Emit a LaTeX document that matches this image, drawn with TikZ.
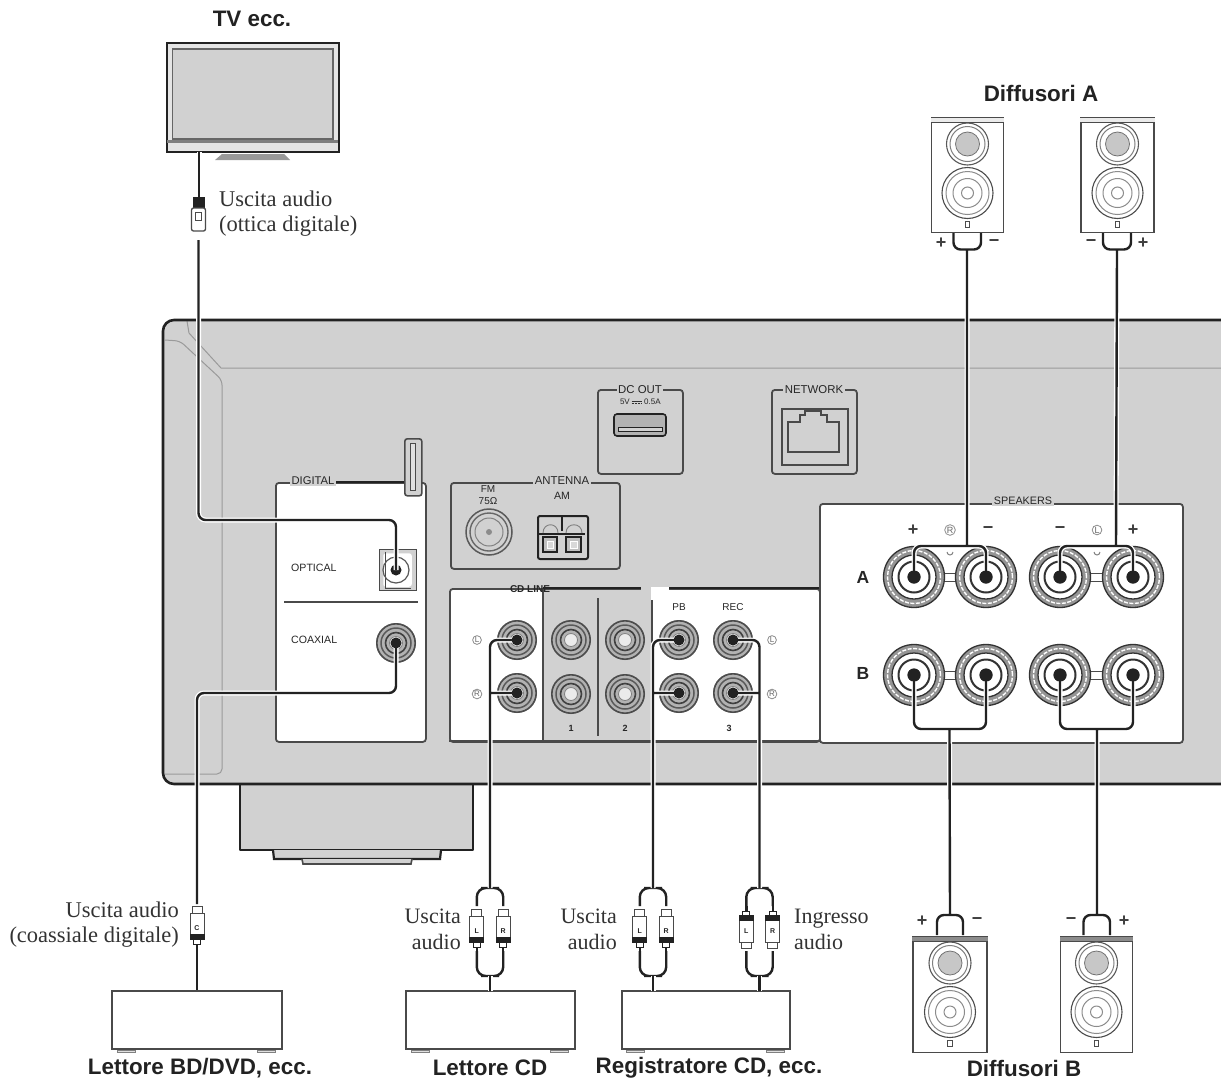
\documentclass[tikz,border=0pt]{standalone}
\usepackage{fontspec}
\setmainfont{Liberation Serif}
\setsansfont{Liberation Sans}
\definecolor{ampgray}{HTML}{D1D1D1}
\definecolor{ink}{HTML}{222222}
\definecolor{midline}{HTML}{4A4A4A}
\definecolor{lightline}{HTML}{9A9A9A}
\tikzset{
  cable/.style={draw=ink,line width=2.4pt,rounded corners=7pt,preaction={draw=white,line width=5pt}},
  panel/.style={draw=midline,line width=1.8pt,fill=white,rounded corners=3pt,anchor=north west,inner sep=0pt},
  graypanel/.style={panel,fill=ampgray},
  devbox/.style={draw=midline,line width=1.4pt,fill=white,inner sep=0pt},
  title/.style={font=\sffamily\bfseries\fontsize{22.4}{25}\selectfont,text=ink,inner sep=0pt},
  note/.style={font=\rmfamily\fontsize{22.5}{25}\selectfont,text=black!80,inner sep=0pt},
  noteb/.style={font=\rmfamily\fontsize{22}{26}\selectfont,text=black!80,inner sep=0pt},
  tag/.style={font=\sffamily\fontsize{10.6}{12}\selectfont,text=black!85,inner sep=0pt},
  tagfill/.style={tag,fill=ampgray,inner sep=1.5pt},
  plugletter/.style={tag,font=\sffamily\bfseries\fontsize{7}{8}\selectfont},
  bigtag/.style={font=\sffamily\bfseries\fontsize{17.5}{19}\selectfont,text=black!85,inner sep=0pt},
  sign/.style={font=\sffamily\bfseries\fontsize{18}{19}\selectfont,text=black!75,inner sep=0pt},
  ring/.style={draw=black!45,circle,line width=.8pt,inner sep=.6pt,font=\sffamily\fontsize{8}{9}\selectfont,text=black!60},
  thinline/.style={draw=lightline,line width=1pt},
}
% RCA socket
\newcommand\jack[3]{%
  \coordinate (#1) at (#2,#3);
  \fill[black!30] (#1) circle (20pt);
  \draw[black!70,line width=1.6pt] (#1) circle (19.2pt);
  \draw[black!65,line width=1.5pt] (#1) circle (15pt);
  \draw[black!75,line width=1.6pt] (#1) circle (10.5pt);
  \fill[black!8] (#1) circle (6.5pt);
  \draw[black!50,line width=.8pt] (#1) circle (6.5pt);
}
\newcommand\pin[1]{\fill[ink] (#1) circle (5.5pt);}
% speaker terminal
\newcommand\term[3]{%
  \coordinate (#1) at (#2,#3);
  \draw[black!80,fill=black!42,line width=1.3pt] (#1) circle (30.5pt);
  \draw[white,line width=1.4pt,dash pattern=on 4pt off 1.5pt] (#1) circle (26.5pt);
  \draw[black!80,fill=white,line width=1.3pt] (#1) circle (22pt);
  \draw[black!80,line width=2pt] (#1) circle (15.5pt);
  \fill[ink] (#1) circle (6.5pt);
}
% speaker cabinet: name, cx, top, width, height, band colour
\newcommand\spk[6]{%
  \node (#1) [devbox,anchor=north,minimum width=#4pt,minimum height=#5pt] at (#2,#3) {};
  \fill[#6] ([yshift=-.5pt]#1.north west) rectangle ([yshift=-5pt]#1.north east);
  \draw[midline,line width=1.2pt] ([yshift=-5.5pt]#1.north west) -- ([yshift=-5.5pt]#1.north east);
  \begin{scope}[shift={(#2,#3)}]
    \draw[black!65,line width=1.1pt] (0,27) circle (21pt);
    \draw[black!50,line width=1pt] (0,27) circle (17.5pt);
    \draw[black!55,line width=.8pt,fill=black!22] (0,27) circle (12pt);
    \draw[black!70,line width=1.1pt] (0,76) circle (25.5pt);
    \draw[black!45,line width=1pt] (0,76) circle (21.5pt);
    \draw[black!45,line width=1pt] (0,76) circle (14.5pt);
    \draw[black!45,line width=1pt] (0,76) circle (6pt);
    \draw[black!70,line width=.9pt] (-2.3,104) rectangle (2.3,110.5);
  \end{scope}
}
% RCA plug
\newcommand\plug[3]{%
  \begin{scope}[shift={(#1,#2)},yscale=#3]
    \fill[ink] (-1.2,17) rectangle (1.2,23);
    \draw[ink,fill=white,line width=1pt] (-3.5,13) rectangle (3.5,18);
    \draw[midline,fill=white,line width=1pt] (-5,-19.5) rectangle (5,-13);
    \draw[midline,fill=white,line width=1pt] (-7,-13) -- (7,-13) -- (7,9) -- (-7,9) -- cycle;
    \fill[ink] (-7.5,8) rectangle (7.5,14);
  \end{scope}
}
% stereo pair
\newcommand\stereo[4]{%
  \coordinate (#1top) at (#2,888);
  \coordinate (#1bot) at (#2,976);
  \coordinate (#1lu) at (#2-13.2,906);
  \coordinate (#1ru) at (#2+13.2,906);
  \coordinate (#1ld) at (#2-13.2,951);
  \coordinate (#1rd) at (#2+13.2,951);
  \coordinate (#1base) at (#2,#4);
  \draw[cable,rounded corners=9pt] (#1lu) |- (#1top) -| (#1ru);
  \draw[cable,rounded corners=9pt] (#1ld) |- (#1bot) -| (#1rd);
  \draw[cable] (#1bot) -- (#1base);
  \plug{#2-13.2}{929}{#3}
  \plug{#2+13.2}{929}{#3}
  \node (#1L) [plugletter] at (#2-13.2,931) {L};
  \node (#1R) [plugletter] at (#2+13.2,931) {R};
}
\begin{document}
\begin{tikzpicture}[x=1pt,y=-1pt]
\useasboundingbox (0,0) rectangle (1221,1079);
\fill[white] (0,0) rectangle (1221,1079);

% ---------- stand under the receiver
\draw[ink,line width=2.4pt,fill=ampgray,line join=round] (240,783) -- (240,850) -- (473,850) -- (473,783);
\draw[ink,line width=2.2pt,fill=ampgray] (273,850) -- (274,859) -- (440,859) -- (441,850);
\draw[midline,line width=1.6pt,fill=ampgray] (302,859) -- (303,864) -- (411,864) -- (412,859);

% ---------- receiver body
\fill[ampgray,rounded corners=11pt] (1240,320) -- (163,320) -- (163,784) -- (1240,784) -- cycle;
\draw[thinline] (187,321) -- (189,333) -- (221,368) -- (1221,368);
\draw[thinline,rounded corners=5pt] (165,340) -- (180,341) -- (222,380) -- (222,774) -- (165,774);
\draw[ink,line width=2.6pt,rounded corners=11pt] (1240,320) -- (163,320) -- (163,784) -- (1240,784);

% ---------- DC OUT
\node (dcbox) [graypanel,minimum width=85pt,minimum height=84pt] at (597,389) {};
\node (dclabel) [tagfill,font=\sffamily\fontsize{11.4}{12}\selectfont] at (640,390) {DC OUT};
\node (dcv) [tag,font=\sffamily\fontsize{8}{9}\selectfont,anchor=east] at (630,402) {5V};
\node (dca) [tag,font=\sffamily\fontsize{8}{9}\selectfont,anchor=west] at (644,402) {0.5A};
\draw[black!80,line width=.9pt] (dcv.east) ++(1.5,-1) -- ++(10,0);
\draw[black!80,line width=.7pt,dash pattern=on 2pt off 1pt] (dcv.east) ++(1.5,1) -- ++(10,0);
\node (usb) [draw=ink,fill=black!30,line width=1.6pt,rounded corners=3pt,minimum width=52pt,minimum height=22pt,inner sep=0pt] at (640,425) {};
\draw[ink,fill=ampgray,line width=1pt] (618,427) rectangle (662,431);

% ---------- NETWORK
\node (netbox) [graypanel,minimum width=85pt,minimum height=84pt] at (771,389) {};
\node (netlabel) [tagfill,font=\sffamily\fontsize{11.4}{12}\selectfont] at (814,390) {NETWORK};
\node (netport) [draw=midline,line width=1.6pt,anchor=north west,minimum width=66pt,minimum height=56pt,inner sep=0pt] at (781,408) {};
\draw[midline,line width=1.2pt,fill=ampgray] (788,452) -- (839,452) -- (839,422) -- (827,422) -- (827,415) -- (821,415) -- (821,411) -- (805,411) -- (805,415) -- (800,415) -- (800,422) -- (788,422) -- cycle;

% ---------- ANTENNA
\node (antbox) [graypanel,minimum width=169pt,minimum height=86pt] at (450,482) {};
\node (antlabel) [tagfill,font=\sffamily\fontsize{11.4}{12}\selectfont] at (562,481) {ANTENNA};
\node (fmlabel) [tag,align=center,font=\sffamily\fontsize{10}{12.5}\selectfont] at (488,495) {FM\\75Ω};
\node (amlabel) [tag] at (562,496) {AM};
\coordinate (fmjack) at (489,532);
\draw[black!65,line width=1.5pt] (fmjack) circle (23pt);
\draw[black!60,line width=1.4pt] (fmjack) circle (19pt);
\draw[black!50,line width=1pt] (fmjack) circle (14pt);
\fill[black!45] (fmjack) circle (3pt);
\node (amterm) [draw=ink,line width=2pt,rounded corners=2pt,anchor=north west,minimum width=50pt,minimum height=43pt,inner sep=0pt] at (537,515) {};
\draw[ink,line width=1.5pt] (562,516) -- (562,531);
\draw[ink,line width=1.2pt] (539,534) -- (585,534);
\draw[black!50,line width=.9pt] (543,533) .. controls (543,522) and (558,522) .. (558,533);
\draw[black!50,line width=.9pt] (566,533) .. controls (566,522) and (582,522) .. (582,533);
\draw[ink,fill=black!25,line width=1.6pt] (543,537) rectangle (557,552);
\draw[ink,fill=black!25,line width=1.6pt] (566,537) rectangle (581,552);
\draw[white,fill=black!15,line width=.8pt] (547,541) rectangle (553,548);
\draw[white,fill=black!15,line width=.8pt] (570,541) rectangle (577,548);

% ---------- DIGITAL
\node (digital) [panel,minimum width=150pt,minimum height=259pt] at (275,482) {};
\draw[ink,line width=2.4pt] (335,482) -- (405,482);
\node (digitallabel) [tagfill,font=\sffamily\fontsize{11.2}{12}\selectfont] at (313,481) {DIGITAL};
\node (stick) [draw=midline,fill=ampgray,line width=1.6pt,rounded corners=2.5pt,anchor=north west,minimum width=17pt,minimum height=57pt,inner sep=0pt] at (404,438) {};
\draw[midline,fill=black!12,line width=1pt] (410.5,443) rectangle (415,490);
\draw[midline,line width=1.2pt] (284,602) -- (418,602);
\node (optlabel) [tag,anchor=west] at (291,568) {OPTICAL};
\node (coaxlabel) [tag,anchor=west] at (291,640) {COAXIAL};
\node (optbox) [draw=midline,fill=ampgray,line width=1.4pt,anchor=north west,minimum width=37pt,minimum height=41pt,inner sep=0pt] at (379,549) {};
\draw[white,line width=1.5pt,fill=white,rounded corners=2pt] (384,554) rectangle (411,586);
\draw[midline,line width=1pt] (385,552) -- (385,588) -- (411,588);
\draw[black!65,line width=1.2pt] (396,570) circle (13pt);
\coordinate (jopt) at (396,570);
\fill[ink] (jopt) circle (5.5pt);
\jack{jcoax}{396}{643}

% ---------- CD / LINE panel
\node (linepanel) [panel,minimum width=370pt,minimum height=153pt] at (449,588) {};
\fill[ampgray] (543,589.5) rectangle (652,740);
\draw[ink,line width=2.4pt] (543,588) -- (641,588);
\fill[ampgray] (641,585) rectangle (669,590);
\fill[white] (651,587) rectangle (669,600);
\draw[ink,line width=2.4pt] (669,588) -- (820,588);
\draw[midline,line width=1.1pt] (543,589) -- (543,741);
\draw[midline,line width=1.1pt] (598,598) -- (598,736);
\draw[midline,line width=1.1pt] (652,600) -- (652,736);
\draw[midline,line width=2pt] (449,741) -- (820,741);
\node (cdlinelabel) [tag,font=\sffamily\bfseries\fontsize{10}{11}\selectfont] at (530,589) {CD LINE};
\node (pblabel) [tag,font=\sffamily\fontsize{10}{11}\selectfont] at (679,607) {PB};
\node (reclabel) [tag,font=\sffamily\fontsize{10}{11}\selectfont] at (733,607) {REC};
\node (num1) [tag,font=\sffamily\bfseries\fontsize{9}{11}\selectfont] at (571,728) {1};
\node (num2) [tag,font=\sffamily\bfseries\fontsize{9}{11}\selectfont] at (625,728) {2};
\node (num3) [tag,font=\sffamily\bfseries\fontsize{9}{11}\selectfont] at (729,728) {3};
\node (cdL) [ring] at (477,640) {L};
\node (cdR) [ring] at (477,694) {R};
\node (recL) [ring] at (772,640) {L};
\node (recR) [ring] at (772,694) {R};
\jack{jcdL}{517}{640}\jack{jcdR}{517}{693}
\jack{j1L}{571}{640}\jack{j1R}{571}{694}
\jack{j2L}{625}{640}\jack{j2R}{625}{694}
\jack{jpbL}{679}{640}\jack{jpbR}{679}{693}
\jack{jrecL}{733}{640}\jack{jrecR}{733}{693}

% ---------- SPEAKERS panel
\node (spkpanel) [panel,minimum width=363pt,minimum height=239pt] at (819,503) {};
\node (spklabel) [tagfill,font=\sffamily\fontsize{10.8}{12}\selectfont] at (1023,501) {SPEAKERS};
\node (bigA) [bigtag] at (863,577) {A};
\node (bigB) [bigtag] at (863,673) {B};
\node (sgn1) [sign] at (913,530) {+};
\node (circR) [ring,font=\sffamily\fontsize{9}{10}\selectfont] at (950,530) {R};
\node (sgn2) [sign] at (988,530) {−};
\node (sgn3) [sign] at (1060,530) {−};
\node (circL) [ring,font=\sffamily\fontsize{9}{10}\selectfont] at (1097,530) {L};
\node (sgn4) [sign] at (1133,530) {+};
\foreach \cx in {950,1097}{
  \draw[midline,line width=1pt] (\cx-8,573) -- (\cx+8,573) (\cx-8,581) -- (\cx+8,581);
  \draw[midline,line width=1pt] (\cx-8,671) -- (\cx+8,671) (\cx-8,679) -- (\cx+8,679);
  \draw[black!50,line width=1pt] (\cx-3,552) arc[start angle=180,end angle=360,radius=3pt];
}
\term{tAL}{914}{577}\term{tAR}{986}{577}\term{tAl}{1060}{577}\term{tAr}{1133}{577}
\term{tBL}{914}{675}\term{tBR}{986}{675}\term{tBl}{1060}{675}\term{tBr}{1133}{675}

% ---------- TV
\node (tv) [draw=ink,line width=2.2pt,fill=black!10,anchor=north west,minimum width=172pt,minimum height=109pt,inner sep=0pt] at (166,42) {};
\draw[black!60,line width=1.3pt,fill=ampgray] (172.5,49) rectangle (333,139);
\fill[black!50] (167,139.5) rectangle (338,143);
\fill[black!40] (215,160) -- (222,154) -- (284,154) -- (290,160) -- cycle;
\draw[ink,line width=1.2pt] (245,152.5) -- (258,152.5);
\node (tvtitle) [title] at (252,19) {TV ecc.};

% ---------- source boxes
\node (bd) [devbox,minimum width=170pt,minimum height=58pt] at (197,1020) {};
\node (cdp) [devbox,minimum width=169pt,minimum height=58pt] at (490.5,1020) {};
\node (rec) [devbox,minimum width=168pt,minimum height=58pt] at (706,1020) {};
\foreach \a/\b in {117/135,257/275,411/429,550/568,626/644,766/784}{
  \draw[black!50,line width=.8pt,fill=black!12] (\a,1050) rectangle (\b,1052.5);
}
\node (bdtitle) [title] at (200,1068) {Lettore BD/DVD, ecc.};
\node (cdtitle) [title] at (490,1068) {Lettore CD};
\node (rectitle) [title] at (709,1068) {Registratore CD, ecc.};

% ---------- speakers
\spk{sa1}{967.5}{117}{72}{115}{black!8}
\spk{sa2}{1117.5}{117}{73}{115}{black!8}
\spk{sb1}{950}{936}{74}{116}{black!45}
\spk{sb2}{1096.5}{936}{72}{116}{black!45}
\node (dAtitle) [title] at (1041,93) {Diffusori A};
\node (dBtitle) [title] at (1024,1068) {Diffusori B};
\node (pA1) [sign] at (941,243) {+};
\node (mA1) [sign] at (994,243) {−};
\node (mA2) [sign] at (1091,243) {−};
\node (pA2) [sign] at (1143,243) {+};
\node (pB1) [sign] at (922,921) {+};
\node (mB1) [sign] at (977,921) {−};
\node (mB2) [sign] at (1071,921) {−};
\node (pB2) [sign] at (1124,921) {+};

% ---------- notes
\node (noteopt) [note,align=left,anchor=west] at (219,214) {Uscita audio\\(ottica digitale)};
\node (notecoax) [note,align=right,anchor=east] at (179,925) {Uscita audio\\(coassiale digitale)};
\node (notecd) [noteb,align=right,anchor=east] at (461,929) {Uscita\\audio};
\node (notepb) [noteb,align=right,anchor=east] at (617,929) {Uscita\\audio};
\node (noterec) [noteb,align=left,anchor=west] at (794,929) {Ingresso\\audio};

% ---------- cables
\coordinate (tvout) at (199,152);
\coordinate (optplugtop) at (199,197);
\coordinate (optcont) at (198.5,240);
\coordinate (optturn) at (396,520);
\draw[cable] (tvout) -- (optplugtop);
\draw[cable] (optcont) |- (optturn) -- (jopt);
\begin{scope}[shift={(198.5,197)}]
  \fill[ink] (-6,0) rectangle (6,11);
  \draw[midline,fill=white,line width=1.3pt,rounded corners=2pt] (-7,11) rectangle (7,34);
  \draw[midline,line width=.9pt] (-3,15) rectangle (3,23);
\end{scope}
\coordinate (coaxturn) at (197,693);
\coordinate (coaxplugtop) at (197,904);
\coordinate (coaxplugbot) at (197,947);
\draw[cable] (jcoax) |- (coaxturn) -- (coaxplugtop);
\draw[cable] (coaxplugbot) -- (bd.north);
\plug{197}{926}{1}
\node (coaxC) [plugletter] at (197,928) {C};
\stereo{sc}{490}{1}{991}
\stereo{sp}{653}{1}{991}
\stereo{sr}{759.5}{-1}{991}
\draw[cable] (jcdL) -| (sctop) (jcdR) -- (jcdR -| sctop);
\draw[cable] (jpbL) -| (sptop) (jpbR) -- (jpbR -| sptop);
\draw[cable] (jrecL) -| (srtop) (jrecR) -- (jrecR -| srtop);
\foreach \j in {jcoax,jcdL,jcdR,jpbL,jpbR,jrecL,jrecR}{\pin{\j}}
\coordinate (ua1) at (967,249.5);
\coordinate (ua2) at (1117,249.5);
\coordinate (busA1) at (967,546);
\coordinate (busA2) at (1116,546);
\coordinate (ua1l) at (953.5,233);
\coordinate (ua1r) at (981,233);
\coordinate (ua2l) at (1103,233);
\coordinate (ua2r) at (1131,233);
\draw[cable] (ua1l) |- (ua1) -| (ua1r) (ua1) -- (busA1) (tAL) |- (busA1) -| (tAR);
\draw[cable] (ua2l) |- (ua2) -| (ua2r) (ua2) -- (busA2) (tAl) |- (busA2) -| (tAr);
\coordinate (busB1) at (949.5,729);
\coordinate (busB2) at (1097,729);
\coordinate (ub1) at (950,915);
\coordinate (ub2) at (1097,915);
\coordinate (ub1l) at (937,935);
\coordinate (ub1r) at (963,935);
\coordinate (ub2l) at (1083.5,935);
\coordinate (ub2r) at (1110,935);
\draw[cable] (tBL) |- (busB1) -| (tBR) (busB1) -- (ub1) (ub1l) |- (ub1) -| (ub1r);
\draw[cable] (tBl) |- (busB2) -| (tBr) (busB2) -- (ub2) (ub2l) |- (ub2) -| (ub2r);
\foreach \j in {tAL,tAR,tAl,tAr,tBL,tBR,tBl,tBr}{\fill[ink] (\j) circle (6.5pt);}
\end{tikzpicture}
\end{document}
